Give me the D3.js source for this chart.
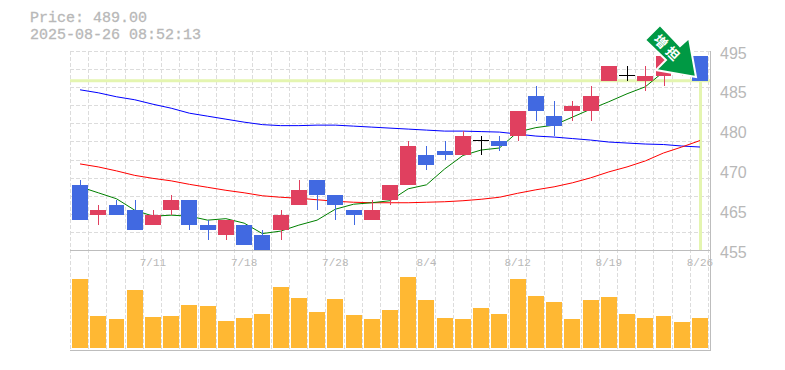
<!DOCTYPE html>
<html>
<head>
<meta charset="utf-8">
<script src="https://cdn.jsdelivr.net/npm/d3@7"></script>
<style>
  html, body { margin: 0; padding: 0; background: #fff; }
  svg { display: block; }
</style>
</head>
<body>
<div id="chart"></div>
<script>
const dates = ['7/7','7/8','7/9','7/10','7/11','7/14','7/15','7/16','7/17','7/18','7/22','7/23','7/24','7/25','7/28','7/29','7/30','7/31','8/1','8/4','8/5','8/6','8/7','8/8','8/12','8/13','8/14','8/15','8/18','8/19','8/20','8/21','8/22','8/25','8/26'];
const opens  = [468,462,464,463,460,463,465,460,458,460,458,459,464,469,466,463,461,465,468,474,475,474,477,477,478,486,482,483,483,489,490,489,490,491,494];
const highs  = [469,464,465,465,463,466,465,461,461,460,459,463,469,469,466,463,465,468,477,476,477,479,478,478,483,488,485,485,488,492,492,492,494,493,494];
const lows   = [461,460,462,459,460,462,459,457,457,456,455,457,464,463,461,460,461,464,468,471,473,474,474,475,477,481,478,481,481,489,489,487,488,490,489];
const closes = [461,463,462,459,462,465,460,459,461,456,455,462,467,466,464,462,463,468,476,472,474,478,477,476,483,483,480,484,486,492,490,490,494,493,489];
const ma5  = [467.7,466.5,465.3,463.0,461.8,462.0,461.8,461.0,461.3,460.4,458.3,458.8,460.0,461.0,463.2,464.2,464.5,464.9,467.3,468.1,471.3,474.0,475.1,475.5,478.7,479.6,480.1,481.7,483.3,484.8,486.4,487.8,490.8,490.8,490.8];
const ma25 = [472.3,471.7,470.9,470.0,469.4,468.9,468.2,467.6,467.0,466.5,465.9,465.6,465.4,465.1,464.8,464.6,464.5,464.5,464.5,464.6,464.7,464.9,465.2,465.6,466.4,467.1,467.7,468.5,469.5,470.7,471.7,472.9,474.5,475.7,477.0];
const ma75 = [487.2,486.6,485.8,485.2,484.3,483.5,482.5,481.9,481.3,480.7,480.2,480.0,480.0,480.1,480.1,479.9,479.7,479.5,479.3,479.1,478.9,478.9,478.8,478.7,478.3,477.9,477.7,477.4,477.1,476.7,476.5,476.3,476.2,475.9,475.7];
const volumes = [69,32,29,58,31,32,43,42,27,30,34,61,50,36,49,33,29,38,71,48,30,29,40,34,69,52,46,29,48,51,34,30,32,26,30];
const priceTicks = [495,487,479,471,463,455];
const priceLabels = ['495','485','480','470','465','455'];
const gridPrices = [495,491.36,487.73,484.09,480.45,476.82,473.18,469.55,465.91,462.27,458.64,455];
const dateLabels = ['7/11','7/18','7/28','8/4','8/12','8/19','8/26'];
const lastPrice = 489;
const priceTitle = 'Price: 489.00';
const timeTitle = '2025-08-26 08:52:13';
const arrowText = '増担';

const width = 785, height = 370;
const plotLeft = 70, plotRight = 710, plotTop = 51, priceBottom = 250, volBottom = 348, frameBottom = 350;

const svg = d3.select('#chart').append('svg')
    .attr('width', width)
    .attr('height', height);

const x = d3.scaleBand().domain(dates).range([70.9, 709.1]).paddingInner(0.125).paddingOuter(0.0625);
const y = d3.scaleLinear().domain([455, 495]).range([priceBottom, plotTop]);
const yVol = d3.scaleLinear().domain([0, 100]).range([volBottom, volBottom - 100]);
const mid = d => x(d) + x.bandwidth() / 2;

// grid
const grid = svg.append('g').attr('stroke', '#dcdcdc').attr('stroke-dasharray', '4,2').attr('shape-rendering', 'crispEdges');
d3.range(0, dates.length + 1).forEach(i => {
  const gx = Math.round(plotLeft + x.step() * i) + 0.5;
  grid.append('line').attr('x1', gx).attr('x2', gx).attr('y1', plotTop).attr('y2', frameBottom);
});
gridPrices.slice(0, -1).forEach(p => {
  const gy = Math.round(y(p)) + 0.5;
  grid.append('line').attr('x1', plotLeft).attr('x2', plotRight).attr('y1', gy).attr('y2', gy);
});

// frame
const frame = svg.append('g').attr('stroke', '#bdbdbd').attr('shape-rendering', 'crispEdges');
frame.append('line').attr('x1', plotLeft).attr('x2', plotRight + 1).attr('y1', priceBottom + 0.5).attr('y2', priceBottom + 0.5);
frame.append('line').attr('x1', plotLeft).attr('x2', plotRight + 1).attr('y1', frameBottom + 0.5).attr('y2', frameBottom + 0.5);
frame.append('line').attr('x1', plotRight + 0.5).attr('x2', plotRight + 0.5).attr('y1', plotTop).attr('y2', frameBottom);

// current price marker
const marker = svg.append('g').attr('stroke', '#e4f5b0').attr('stroke-width', 3);
const lastX = Math.round(mid(dates[34])) + 0.5;
marker.append('line').attr('x1', plotLeft).attr('x2', plotRight).attr('y1', y(lastPrice)).attr('y2', y(lastPrice));
marker.append('line').attr('x1', lastX).attr('x2', lastX).attr('y1', y(lastPrice)).attr('y2', priceBottom);

// volume
svg.append('g').selectAll('rect').data(dates).join('rect')
    .attr('x', d => x(d))
    .attr('width', x.bandwidth())
    .attr('y', (d, i) => yVol(volumes[i]))
    .attr('height', (d, i) => volBottom - yVol(volumes[i]))
    .attr('fill', '#ffb833')
    .attr('shape-rendering', 'crispEdges');

// moving averages
const lineOf = d3.line().x((v, i) => mid(dates[i])).y(v => y(v));
[[ma75, '#0000ff'], [ma25, '#ff0000'], [ma5, '#008000']].forEach(([vals, color]) => {
  svg.append('path').attr('d', lineOf(vals)).attr('fill', 'none').attr('stroke', color).attr('stroke-width', 1);
});

// candles
const candleColor = i => closes[i] > opens[i] ? '#e0405f' : closes[i] < opens[i] ? '#4169e1' : '#000';
const candles = svg.append('g').attr('shape-rendering', 'crispEdges');
dates.forEach((d, i) => {
  candles.append('line')
      .attr('x1', Math.round(mid(d)) + 0.5).attr('x2', Math.round(mid(d)) + 0.5)
      .attr('y1', y(highs[i])).attr('y2', y(lows[i]))
      .attr('stroke', candleColor(i));
  if (opens[i] === closes[i]) {
    candles.append('line')
        .attr('x1', x(d)).attr('x2', x(d) + x.bandwidth())
        .attr('y1', y(opens[i])).attr('y2', y(opens[i]))
        .attr('stroke', '#000');
  } else {
    candles.append('rect')
        .attr('x', x(d)).attr('width', x.bandwidth())
        .attr('y', y(Math.max(opens[i], closes[i])))
        .attr('height', Math.abs(y(opens[i]) - y(closes[i])))
        .attr('fill', candleColor(i));
  }
});

// arrow
svg.append('polygon')
    .attr('points', '660,25 645,40 666,60 656,70 696,77 689,38 680,46')
    .attr('fill', '#009944')
    .attr('stroke', '#fff')
    .attr('stroke-width', 2);
svg.append('text')
    .attr('transform', 'translate(668,49) rotate(45)')
    .attr('text-anchor', 'middle')
    .attr('dy', '0.35em')
    .attr('fill', '#fff')
    .attr('font-family', '"Noto Sans CJK JP"')
    .attr('font-weight', 700)
    .attr('font-size', 13)
    .attr('letter-spacing', 4)
    .text(arrowText);

// labels
const mono = '"Liberation Mono", monospace';
svg.append('text').attr('x', 30).attr('y', 22).attr('font-family', mono).attr('font-size', 15).attr('fill', '#b8b8b8').attr('stroke', '#b8b8b8').attr('stroke-width', 0.3).text(priceTitle);
svg.append('text').attr('x', 30).attr('y', 39).attr('font-family', mono).attr('font-size', 15).attr('fill', '#b8b8b8').attr('stroke', '#b8b8b8').attr('stroke-width', 0.3).text(timeTitle);

svg.append('g').selectAll('text').data(priceTicks).join('text')
    .attr('x', 720)
    .attr('y', d => y(d) + 7.5)
    .attr('font-family', '"Liberation Sans"')
    .attr('font-size', 16)
    .attr('fill', '#b8b8b8')
    .text((d, i) => priceLabels[i]);

svg.append('g').selectAll('text').data(dateLabels).join('text')
    .attr('x', d => mid(d))
    .attr('y', 266)
    .attr('text-anchor', 'middle')
    .attr('font-family', mono)
    .attr('font-size', 11)
    .attr('fill', '#b8b8b8')
    .text(d => d);
</script>
</body>
</html>
